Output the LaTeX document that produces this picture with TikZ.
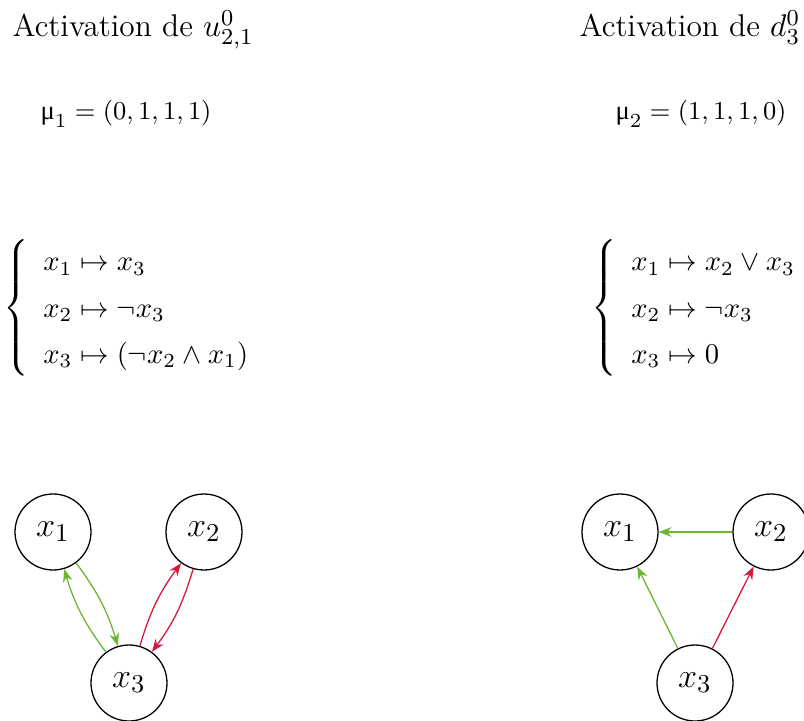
\documentclass[tikz,border=0pt]{standalone}
\usepackage{fontspec}
\newfontfamily\greekfont{Liberation Serif}
\usetikzlibrary{arrows.meta, positioning}
\definecolor{actgreen}{RGB}{110,180,50}
\definecolor{inhred}{RGB}{215,25,65}
\newcommand{\upmuletter}{\mbox{\greekfont μ}}

\begin{document}
\begin{tikzpicture}[
		x=0.35pt, y=0.35pt,
		title/.style={anchor=base west, font=\fontsize{11}{14}\selectfont, inner sep=0pt},
		txt/.style={anchor=base west, font=\fontsize{9.3}{12}\selectfont, inner sep=0pt},
		system/.style={anchor=west, font=\fontsize{9.6}{12.5}\selectfont, inner sep=0pt},
		var/.style={circle, draw=black, line width=0.45pt, minimum size=26.6pt, inner sep=0pt, font=\fontsize{13}{15}\selectfont},
		actarrow/.style={-{Stealth[length=4.5pt, width=3.4pt]}, actgreen, line width=0.45pt},
		inharrow/.style={-{Stealth[length=4.5pt, width=3.4pt]}, inhred, line width=0.45pt}
		]
		\useasboundingbox (0,0) rectangle (804,-720);
		% Left column
		\node[title] (titleA) at (12,-37) {Activation de $u^0_{2,1}$};
		\node[txt] (muA) at (40,-120) {$\upmuletter_1 = (0,1,1,1)$};
		\node[system] (eqA) at (3,-308) {\def\arraystretch{1.3}$\left\{\begin{array}{l}
				x_1 \mapsto x_3\\
				x_2 \mapsto \neg x_3\\
				x_3 \mapsto (\neg x_2 \wedge x_1)
			\end{array}\right.$};
		\node[var] (a1) at (53,-532) {$x_1$};
		\node[var] (a2) at (204,-532) {$x_2$};
		\node[var] (a3) at (129,-683) {$x_3$};
		
		% Right column
		\node[title] (titleB) at (579,-37) {Activation de $d^0_3$};
		\node[txt] (muB) at (615,-120) {$\upmuletter_2 = (1,1,1,0)$};
		\node[system] (eqB) at (591,-308) {\def\arraystretch{1.3}$\left\{\begin{array}{l}
				x_1 \mapsto x_2 \vee x_3\\
				x_2 \mapsto \neg x_3\\
				x_3 \mapsto 0
			\end{array}\right.$};
		\node[var] (b1) at (620,-532) {$x_1$};
		\node[var] (b2) at (771,-532) {$x_2$};
		\node[var] (b3) at (695,-683) {$x_3$};
		
		% Interactions
		\draw[actarrow] (a1) to[bend left=10] (a3);
		\draw[actarrow] (a3) to[bend left=10] (a1);
		\draw[inharrow] (a3) to[bend left=10] (a2);
		\draw[inharrow] (a2) to[bend left=10] (a3);
		\draw[actarrow] (b2) -- (b1);
		\draw[actarrow] (b3) -- (b1);
		\draw[inharrow] (b3) -- (b2);
	\end{tikzpicture}
\end{document}
